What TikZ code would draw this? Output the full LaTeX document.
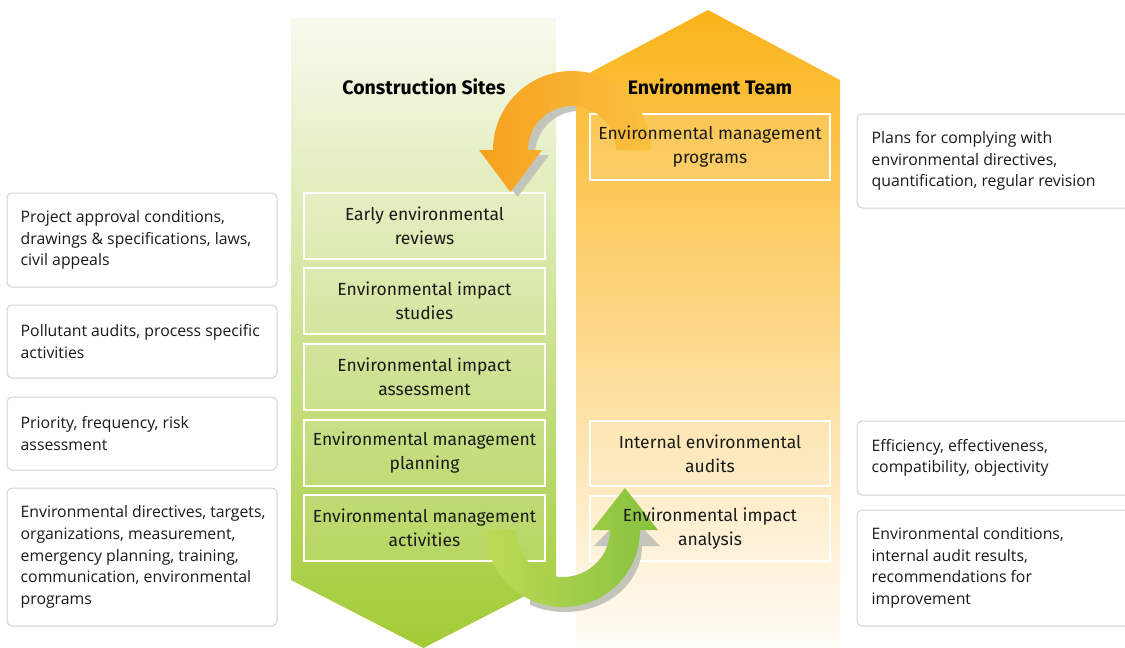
\documentclass[tikz,border=0pt]{standalone}
\usepackage{fontspec}
\setmainfont{Open Sans}
\newfontfamily\colfont{Fira Sans}

\definecolor{greenTop}{HTML}{F8FAEF}
\definecolor{greenMid}{HTML}{D3E5A4}
\definecolor{greenBot}{HTML}{A3CB34}
\definecolor{orTop}{HTML}{FAB41A}
\definecolor{orMid}{HTML}{FDD892}
\definecolor{orBot}{HTML}{FFFCF8}
\definecolor{arrowOr}{HTML}{F5A11F}
\definecolor{arrowOrEnd}{HTML}{FBC03F}
\definecolor{arrowGr}{HTML}{86C23E}
\definecolor{arrowGrMid}{HTML}{8FC640}
\definecolor{arrowGrL}{HTML}{BEDA55}
\definecolor{shadowGray}{HTML}{C4C5BA}
\definecolor{sideBorder}{HTML}{D2D2D2}
\definecolor{ink}{HTML}{1A1A1A}

% outlines of the two cycle arrows (pixel-like units, y pointing up)
\newcommand{\orArrowPath}{(651,-150) arc[start angle=0,end angle=180,radius=79]
  -- (479,-150) -- (510.5,-192) -- (542,-150) -- (528,-150)
  arc[start angle=180,end angle=0,radius=44] -- cycle}
\newcommand{\grArrowPath}{(486,-530) arc[start angle=180,end angle=360,radius=77]
  -- (658,-530) -- (625,-488) -- (592,-530) -- (610,-530)
  arc[start angle=360,end angle=180,radius=47] -- cycle}
\newcommand{\grShadowPath}{(488,-546) arc[start angle=180,end angle=360,x radius=77,y radius=66]
  -- (660,-546) -- (627,-512) -- (594,-546) -- (612,-546)
  arc[start angle=360,end angle=180,x radius=47,y radius=40] -- cycle}

\tikzset{
  colbox/.style={draw=white, line width=1.4pt, fill=white, fill opacity=0.12,
    minimum width=241pt, minimum height=66pt, inner sep=0pt},
  coltext/.style={font=\colfont\fontsize{17.5}{24}\selectfont, text=ink,
    align=center, inner sep=0pt},
  headtext/.style={font=\colfont\bfseries\fontsize{19.5}{22}\selectfont, text=black, inner sep=0pt},
  sidebox/.style={draw=sideBorder, line width=1pt, fill=white, rounded corners=5pt, inner sep=0pt},
  leftbox/.style={sidebox, minimum width=270pt},
  rightbox/.style={sidebox, minimum width=278pt},
  sidetext/.style={anchor=west, align=left, text=ink, inner sep=0pt,
    font=\fontsize{15.8}{21.6}\selectfont},
}

\begin{document}
\begin{tikzpicture}[x=1pt,y=1pt]
\useasboundingbox (0,0) rectangle (1125,-648);
\clip (0,0) rectangle (1125,-648);

% the two columns
\shade[top color=greenTop, middle color=greenMid, bottom color=greenBot]
  (291,-18) -- (556,-18) -- (556,-580) -- (423.5,-648) -- (291,-580) -- cycle;
\shade[top color=orTop, middle color=orMid, bottom color=orBot]
  (576,-80) -- (708,-10) -- (840,-80) -- (840,-648) -- (576,-648) -- cycle;

% frames of the stage boxes
\node[colbox] (g1) at (424.5,-226) {};
\node[colbox] (g2) at (424.5,-301) {};
\node[colbox] (g3) at (424.5,-377) {};
\node[colbox] (g4) at (424.5,-453) {};
\node[colbox] (g5) at (424.5,-528) {};
\node[colbox, minimum width=240pt] (o1) at (710,-147) {};
\node[colbox, minimum width=240pt, minimum height=65pt] (o2) at (710,-453.5) {};
\node[colbox, minimum width=240pt, minimum height=65pt] (o3) at (710,-528.5) {};

% cycle arrows with their shadows
\begin{scope}
  \clip (440,-40) rectangle (576,-220);
  \fill[shadowGray, shift={(7,-5)}] \orArrowPath;
\end{scope}
\shade[left color=arrowOr, middle color=arrowOr, right color=arrowOrEnd] \orArrowPath;
\begin{scope}
  \clip (530,-500) rectangle (700,-640);
  \fill[shadowGray] \grShadowPath;
\end{scope}
\shade[left color=arrowGrL, middle color=arrowGrMid, right color=arrowGr] \grArrowPath;

% headings
\node[headtext] (hc) at (424,-87) {Construction Sites};
\node[headtext] (he) at (710,-87) {Environment Team};

% stage labels
\node[coltext] (g1t) at (g1.center) {Early environmental\\reviews};
\node[coltext] (g2t) at (g2.center) {Environmental impact\\studies};
\node[coltext] (g3t) at (g3.center) {Environmental impact\\assessment};
\node[coltext] (g4t) at (g4.center) {Environmental management\\planning};
\node[coltext] (g5t) at (g5.center) {Environmental management\\activities};
\node[coltext] (o1t) at (o1.center) {Environmental management\\programs};
\node[coltext] (o2t) at (o2.center) {Internal environmental\\audits};
\node[coltext] (o3t) at (o3.center) {Environmental impact\\analysis};

% notes on the left
\node[leftbox, minimum height=94pt] (l1) at (142,-240) {};
\node[leftbox, minimum height=73pt] (l2) at (142,-341.5) {};
\node[leftbox, minimum height=73pt] (l3) at (142,-433.5) {};
\node[leftbox, minimum height=138pt] (l4) at (142,-557) {};
\node[sidetext] (l1t) at ([xshift=14pt]l1.west)
  {Project approval conditions,\\drawings \& specifications, laws,\\civil appeals};
\node[sidetext] (l2t) at ([xshift=14pt]l2.west)
  {Pollutant audits, process specific\\activities};
\node[sidetext] (l3t) at ([xshift=14pt]l3.west)
  {Priority, frequency, risk\\assessment};
\node[sidetext] (l4t) at ([xshift=14pt]l4.west)
  {Environmental directives, targets,\\organizations, measurement,\\emergency planning, training,\\communication, environmental\\programs};

% notes on the right
\node[rightbox, minimum height=94pt] (r1) at (996,-161) {};
\node[rightbox, minimum height=74pt] (r2) at (996,-458) {};
\node[rightbox, minimum height=116pt] (r3) at (996,-568) {};
\node[sidetext] (r1t) at ([xshift=15pt]r1.west)
  {Plans for complying with\\environmental directives,\\quantification, regular revision};
\node[sidetext] (r2t) at ([xshift=15pt]r2.west)
  {Efficiency, effectiveness,\\compatibility, objectivity};
\node[sidetext] (r3t) at ([xshift=15pt]r3.west)
  {Environmental conditions,\\internal audit results,\\recommendations for\\improvement};
\end{tikzpicture}
\end{document}
